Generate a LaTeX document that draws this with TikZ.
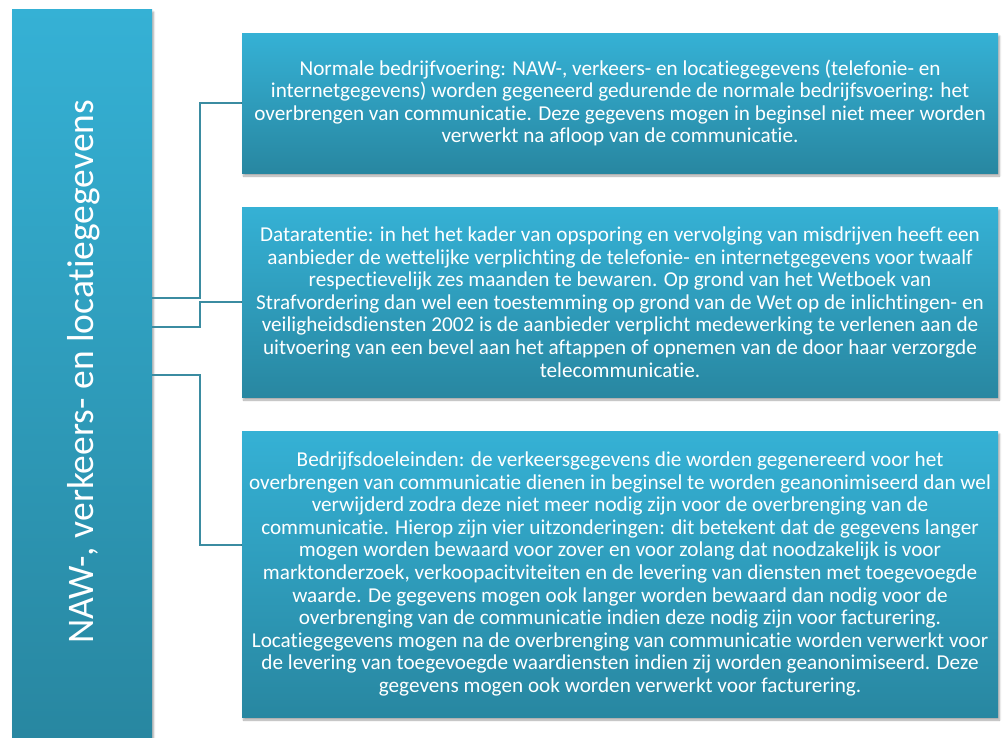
\documentclass[tikz,border=0pt]{standalone}
\usepackage{fontspec}
\setmainfont[Ligatures=NoCommon]{Carlito}
\usetikzlibrary{shadows.blur}
\definecolor{blauwtop}{HTML}{35B1D5}
\definecolor{blauwbodem}{HTML}{2887A1}
\definecolor{lijnkleur}{HTML}{3B8CA1}

\begin{document}
\begin{tikzpicture}[x=1pt, y=-1pt,
    vak/.style={rectangle, top color=blauwtop, bottom color=blauwbodem,
      text=white, align=center, inner sep=0pt,
      blur shadow={shadow xshift=1.5pt, shadow yshift=-3pt,
        shadow opacity=35, shadow blur steps=6}},
    tekst/.style={font=\fontsize{21.2}{22.6}\selectfont},
    lijn/.style={draw=lijnkleur, line width=1.5pt}]
    \useasboundingbox (0,0) rectangle (1003,737);
    % Left column
    \node [vak, minimum width=140pt, minimum height=728pt] (naw) at (82,373) {};
    \node [rotate=90, text=white, font=\fontsize{37.5}{40}\selectfont] (titel) at (84,372)
      {NAW-, verkeers- en locatiegegevens};
    % Lines
    \draw [lijn] (naw.east |- 0,298) -- (200,298) |- (242,103);
    \draw [lijn] (naw.east |- 0,327) -- (200,327) |- (242,302);
    \draw [lijn] (naw.east |- 0,375) -- (200,375) |- (242,545);
    % Boxes
    \node [vak, tekst, minimum width=756pt, minimum height=140pt] (normaal) at (620,103)
      {Normale bedrijfvoering: NAW-, verkeers- en locatiegegevens (telefonie- en\\
       internetgegevens) worden gegeneerd gedurende de normale bedrijfsvoering: het\\
       overbrengen van communicatie. Deze gegevens mogen in beginsel niet meer worden\\
       verwerkt na afloop van de communicatie.};
    \node [vak, tekst, minimum width=756pt, minimum height=190pt] (retentie) at (620,302)
      {Dataratentie: in het het kader van opsporing en vervolging van misdrijven heeft een\\
       aanbieder de wettelijke verplichting de telefonie- en internetgegevens voor twaalf\\
       respectievelijk zes maanden te bewaren. Op grond van het Wetboek van\\
       Strafvordering dan wel een toestemming op grond van de Wet op de inlichtingen- en\\
       veiligheidsdiensten 2002 is de aanbieder verplicht medewerking te verlenen aan de\\
       uitvoering van een bevel aan het aftappen of opnemen van de door haar verzorgde\\
       telecommunicatie.};
    \node [vak, tekst, minimum width=756pt, minimum height=286pt] (doel) at (620,574)
      {Bedrijfsdoeleinden: de verkeersgegevens die worden gegenereerd voor het\\
       overbrengen van communicatie dienen in beginsel te worden geanonimiseerd dan wel\\
       verwijderd zodra deze niet meer nodig zijn voor de overbrenging van de\\
       communicatie. Hierop zijn vier uitzonderingen: dit betekent dat de gegevens langer\\
       mogen worden bewaard voor zover en voor zolang dat noodzakelijk is voor\\
       marktonderzoek, verkoopacitviteiten en de levering van diensten met toegevoegde\\
       waarde. De gegevens mogen ook langer worden bewaard dan nodig voor de\\
       overbrenging van de communicatie indien deze nodig zijn voor facturering.\\
       Locatiegegevens mogen na de overbrenging van communicatie worden verwerkt voor\\
       de levering van toegevoegde waardiensten indien zij worden geanonimiseerd. Deze\\
       gegevens mogen ook worden verwerkt voor facturering.};
\end{tikzpicture}
\end{document}
